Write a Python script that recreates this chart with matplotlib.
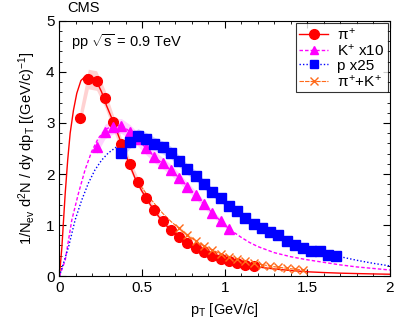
import numpy as np
import matplotlib
matplotlib.use("Agg")
import matplotlib.pyplot as plt
from matplotlib.ticker import MultipleLocator

plt.rcParams["font.family"] = ["Liberation Sans", "DejaVu Sans"]
plt.rcParams["mathtext.fontset"] = "custom"
plt.rcParams["mathtext.rm"] = "Liberation Sans"
plt.rcParams["mathtext.it"] = "Liberation Sans"

# --- data points ---
pi_pt = [0.125, 0.175, 0.225, 0.275, 0.325, 0.375, 0.425, 0.475, 0.525, 0.575, 0.625,
         0.675, 0.725, 0.775, 0.825, 0.875, 0.925, 0.975, 1.025, 1.075, 1.125, 1.175]
pi_val = [3.10, 3.86, 3.83, 3.48, 3.02, 2.58, 2.19, 1.84, 1.54, 1.29, 1.08,
          0.90, 0.76, 0.65, 0.55, 0.47, 0.40, 0.34, 0.29, 0.25, 0.22, 0.20]

k_pt = [0.225, 0.275, 0.325, 0.375, 0.425, 0.475, 0.525, 0.575, 0.625, 0.675,
        0.725, 0.775, 0.825, 0.875, 0.925, 0.975, 1.025]
k_val = [2.52, 2.83, 2.93, 2.94, 2.83, 2.68, 2.50, 2.34, 2.21, 2.08,
         1.92, 1.75, 1.59, 1.41, 1.23, 1.08, 0.93]

p_pt = [0.375, 0.425, 0.475, 0.525, 0.575, 0.625, 0.675, 0.725, 0.775, 0.825, 0.875,
        0.925, 0.975, 1.025, 1.075, 1.125, 1.175, 1.225, 1.275, 1.325, 1.375, 1.425,
        1.475, 1.525, 1.575, 1.625, 1.675]
p_val = [2.42, 2.63, 2.75, 2.68, 2.59, 2.52, 2.42, 2.25, 2.09, 1.97, 1.80,
         1.64, 1.53, 1.37, 1.27, 1.13, 1.02, 0.95, 0.86, 0.81, 0.69, 0.61,
         0.55, 0.50, 0.50, 0.41, 0.39]

pik_pt = [0.725, 0.775, 0.825, 0.875, 0.925, 0.975, 1.025, 1.075, 1.125, 1.175,
          1.225, 1.275, 1.325, 1.375, 1.425, 1.475]
pik_val = [0.935, 0.80, 0.69, 0.59, 0.51, 0.44, 0.38, 0.33, 0.29, 0.25,
           0.22, 0.19, 0.17, 0.15, 0.135, 0.12]

# --- fit curves ---
pi_fit_pt = [0, 0.015, 0.025, 0.035, 0.05, 0.065, 0.085, 0.105, 0.13, 0.165, 0.195, 0.225,
             0.255, 0.285, 0.325, 0.375, 0.42, 0.46, 0.5, 0.55, 0.6, 0.65, 0.7, 0.75, 0.8,
             0.9, 1.0, 1.1, 1.2, 1.3, 1.4, 1.5, 1.6, 1.7, 1.8, 1.9, 2.0]
pi_fit_val = [0, 0.57, 1.10, 1.62, 2.27, 2.80, 3.25, 3.58, 3.83, 3.94, 3.91, 3.81,
              3.61, 3.34, 3.03, 2.60, 2.22, 1.90, 1.66, 1.40, 1.17, 0.98, 0.82, 0.70, 0.59,
              0.43, 0.31, 0.23, 0.18, 0.14, 0.11, 0.085, 0.07, 0.058, 0.05, 0.043, 0.037]

k_fit_pt = [0, 0.035, 0.075, 0.115, 0.155, 0.195, 0.235, 0.275, 0.315, 0.35, 0.4, 0.45,
            0.5, 0.55, 0.6, 0.65, 0.7, 0.75, 0.8, 0.85, 0.9, 0.95, 1.0, 1.05, 1.1, 1.15,
            1.2, 1.3, 1.4, 1.5, 1.6, 1.7, 1.8, 1.9, 2.0]
k_fit_val = [0, 0.31, 1.10, 1.62, 2.08, 2.44, 2.70, 2.86, 2.94, 2.96, 2.90, 2.76,
             2.59, 2.42, 2.27, 2.14, 2.00, 1.84, 1.67, 1.50, 1.32, 1.16, 1.00, 0.87, 0.76, 0.66,
             0.58, 0.46, 0.38, 0.32, 0.27, 0.22, 0.18, 0.15, 0.12]

p_fit_pt = [0, 0.055, 0.095, 0.135, 0.175, 0.215, 0.255, 0.295, 0.345, 0.4, 0.45, 0.5,
            0.55, 0.6, 0.65, 0.7, 0.75, 0.8, 0.85, 0.9, 0.95, 1.0, 1.1, 1.2, 1.3, 1.4,
            1.5, 1.6, 1.7, 1.8, 1.9, 2.0]
p_fit_val = [0, 0.57, 1.10, 1.49, 1.82, 2.08, 2.27, 2.41, 2.53, 2.62, 2.70, 2.73,
             2.67, 2.57, 2.46, 2.33, 2.18, 2.03, 1.88, 1.73, 1.59, 1.46, 1.22, 1.01, 0.85, 0.70,
             0.57, 0.47, 0.38, 0.31, 0.25, 0.20]

pik_fit_pt = [0.47, 0.525, 0.575, 0.625, 0.675, 0.725, 0.775, 0.825, 0.875, 0.925, 0.975,
              1.025, 1.1, 1.2, 1.3, 1.4, 1.5]
pik_fit_val = [1.86, 1.62, 1.42, 1.23, 1.07, 0.935, 0.80, 0.69, 0.59, 0.51, 0.44,
               0.38, 0.31, 0.24, 0.185, 0.145, 0.115]

syst = 0.05  # relative systematic band

RED, MAG, BLUE, ORG = "#ff0000", "#ff00ff", "#0000ff", "#ff6a1a"

fig = plt.figure(figsize=(4.07, 3.26), dpi=100)
ax = fig.add_axes([0.146, 0.153, 0.812, 0.783])

# systematic bands
for xs, ys, c in [(pi_pt, pi_val, "#ff8080"), (k_pt, k_val, "#ff80ff"),
                  (p_pt, p_val, "#8080ff"), (pik_pt, pik_val, "#ffb080")]:
    ys = np.array(ys)
    ax.fill_between(xs, ys * (1 - syst), ys * (1 + syst), color=c, alpha=0.35, lw=0)

# fits
ax.plot(pi_fit_pt, pi_fit_val, color=RED, lw=1.0, ls="-")
ax.plot(k_fit_pt, k_fit_val, color=MAG, lw=1.0, ls=(0, (2.5, 1.5)))
ax.plot(p_fit_pt, p_fit_val, color=BLUE, lw=1.0, ls=(0, (1, 1.5)))
ax.plot(pik_fit_pt, pik_fit_val, color=ORG, lw=0.8, ls=(0, (4, 1)))

# points
ax.plot(pi_pt, pi_val, ls="none", marker="o", ms=7, color=RED, zorder=4)
ax.plot(k_pt, k_val, ls="none", marker="^", ms=6.5, color=MAG, zorder=4)
ax.plot(p_pt, p_val, ls="none", marker="s", ms=6.5, color=BLUE, zorder=4)
ax.plot(pik_pt, pik_val, ls="none", marker="x", ms=6, mew=1.0, color=ORG, zorder=4)

# legend proxies
h1, = ax.plot([], [], color=RED, lw=1.0, ls="-", marker="o", ms=7)
h2, = ax.plot([], [], color=MAG, lw=1.0, ls=(0, (2.5, 1.5)), marker="^", ms=6)
h3, = ax.plot([], [], color=BLUE, lw=1.0, ls=(0, (1, 1.5)), marker="s", ms=6)
h4, = ax.plot([], [], color=ORG, lw=0.8, ls=(0, (4, 1)), marker="x", ms=6, mew=1.0)
leg = ax.legend([h1, h2, h3, h4],
                [r"$\pi^{+}$", r"K$^{+}$ x10", "p x25", r"$\pi^{+}$+K$^{+}$"],
                loc="upper right", fontsize=11, frameon=True, fancybox=False,
                handlelength=1.9, handletextpad=0.6, borderpad=0.2, labelspacing=0.02,
                borderaxespad=0.15)
leg.get_frame().set_edgecolor("black")
leg.get_frame().set_linewidth(0.8)

ax.set_xlim(0, 2)
ax.set_ylim(0, 5)
ax.xaxis.set_major_locator(MultipleLocator(0.5))
ax.xaxis.set_minor_locator(MultipleLocator(0.1))
ax.yaxis.set_major_locator(MultipleLocator(1))
ax.yaxis.set_minor_locator(MultipleLocator(0.2))
ax.set_xticks([0, 0.5, 1, 1.5, 2])
ax.set_xticklabels(["0", "0.5", "1", "1.5", "2"])
ax.tick_params(which="both", direction="in", top=True, right=True, labelsize=11)
ax.tick_params(which="major", length=5, width=0.8)
ax.tick_params(which="minor", length=2.5, width=0.6)
for s in ax.spines.values():
    s.set_linewidth(0.8)

ax.set_xlabel(r"p$_{\rm T}$ [GeV/c]", fontsize=10.5, labelpad=4)
ax.set_ylabel(r"1/N$_{\rm ev}$ d$^{2}$N / dy dp$_{\rm T}$ [(GeV/c)$^{-1}$]", fontsize=10.5, labelpad=6)

fig.text(0.165, 0.955, "CMS", fontsize=10.5, ha="left", va="bottom")
ax.text(0.035, 0.955, r"pp $\sqrt{\rm s}$ = 0.9 TeV", transform=ax.transAxes,
        fontsize=10.5, ha="left", va="top")

fig.savefig("out.png", dpi=100)
